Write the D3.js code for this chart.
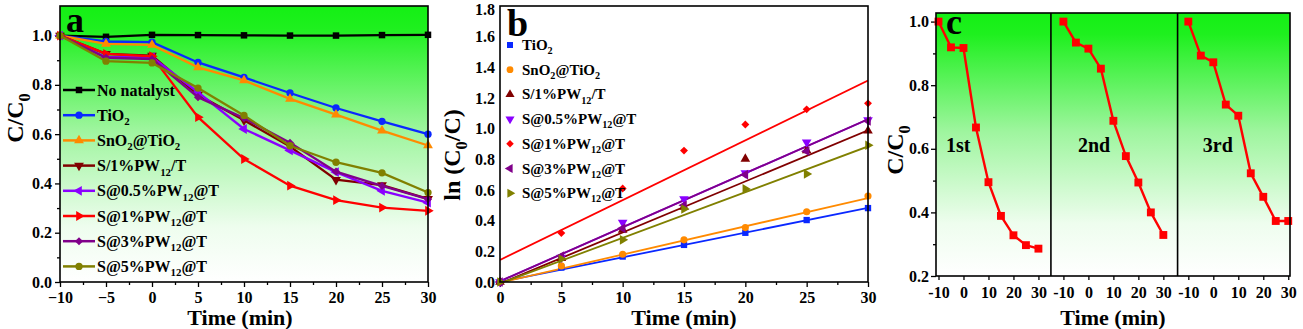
<!DOCTYPE html>
<html>
<head>
<meta charset="utf-8">
<script src="https://cdn.jsdelivr.net/npm/d3@7"></script>
<style>
body { margin: 0; background: #fff; }
text { font-family: "Liberation Serif", "Times New Roman", serif; font-weight: bold; fill: #000; }
</style>
</head>
<body>
<svg id="chart" width="1303" height="329"></svg>
<script>
// ---- panel a : C/C0 vs time ----
var timeA = [-10, -5, 0, 5, 10, 15, 20, 25, 30];
var namesA = ["No natalyst", "TiO_{2}", "SnO_{2}@TiO_{2}", "S/1%PW_{12}/T",
              "S@0.5%PW_{12}@T", "S@1%PW_{12}@T", "S@3%PW_{12}@T", "S@5%PW_{12}@T"];
var noCatalyst = [1.0, 0.995, 1.003, 1.002, 1.001, 1.0, 1.0, 1.002, 1.003];
var tio2 = [1.0, 0.976, 0.973, 0.891, 0.83, 0.767, 0.706, 0.652, 0.60];
var sno2Tio2 = [1.0, 0.966, 0.962, 0.871, 0.818, 0.743, 0.679, 0.614, 0.554];
var s1pwT = [1.0, 0.926, 0.919, 0.76, 0.656, 0.55, 0.415, 0.393, 0.337];
var s05pw = [1.0, 0.912, 0.912, 0.77, 0.621, 0.534, 0.446, 0.37, 0.322];
var s1pw = [1.0, 0.926, 0.916, 0.669, 0.499, 0.391, 0.332, 0.302, 0.289];
var s3pw = [1.0, 0.91, 0.905, 0.75, 0.665, 0.565, 0.448, 0.39, 0.336];
var s5pw = [1.0, 0.896, 0.889, 0.787, 0.676, 0.553, 0.486, 0.443, 0.363];
var valuesA = [noCatalyst, tio2, sno2Tio2, s1pwT, s05pw, s1pw, s3pw, s5pw];
var yTicksA = [0, 0.2, 0.4, 0.6, 0.8, 1.0];
var xTicksA = [-10, -5, 0, 5, 10, 15, 20, 25, 30];

// ---- panel b : ln(C0/C) vs time with linear fits ----
var timeB = [0, 5, 10, 15, 20, 25, 30];
var namesB = namesA.slice(1);
var lnTio2 = [0, 0.094, 0.166, 0.242, 0.321, 0.404, 0.482];
var lnSno2 = [0, 0.105, 0.181, 0.275, 0.355, 0.458, 0.561];
var lnS1pwT = [0, 0.155, 0.34, 0.49, 0.803, 0.857, 0.986];
var lnS05 = [0, 0.16, 0.388, 0.541, 0.711, 0.912, 1.056];
var lnS1 = [0, 0.319, 0.61, 0.857, 1.027, 1.126, 1.165];
var lnS3 = [0, 0.17, 0.35, 0.50, 0.70, 0.853, 1.05];
var lnS5 = [0, 0.15, 0.275, 0.476, 0.607, 0.705, 0.892];
var valuesB = [lnTio2, lnSno2, lnS1pwT, lnS05, lnS1, lnS3, lnS5];
// linear fit: [intercept, slope]
var fitsB = [[0, 0.0161], [-0.005, 0.0184], [-0.01, 0.0333], [0.005, 0.0352],
             [0.144, 0.039], [0.005, 0.0352], [-0.01, 0.0298]];
var yTicksB = [0, 0.2, 0.4, 0.6, 0.8, 1.0, 1.2, 1.4, 1.6, 1.8];
var xTicksB = [0, 5, 10, 15, 20, 25, 30];

// ---- panel c : three recycling runs of S@1%PW12@T ----
var cycleNames = ["1st", "2nd", "3rd"];
var cycle1 = [1.0, 0.919, 0.917, 0.667, 0.495, 0.389, 0.328, 0.297, 0.286];
var cycle2 = [1.0, 0.934, 0.915, 0.852, 0.688, 0.577, 0.494, 0.40, 0.329];
var cycle3 = [1.0, 0.893, 0.872, 0.739, 0.704, 0.523, 0.449, 0.373, 0.373];
var cycles = [cycle1, cycle2, cycle3];
var xTicksC = [-10, 0, 10, 20, 30];
var yTicksC = [0.2, 0.4, 0.6, 0.8, 1.0];

var colorsA = ["#000000", "#0a28ff", "#ff8a00", "#800000", "#8a00ff", "#ff0000", "#80008a", "#808000"];
var shapesA = ["square", "circle", "up", "down", "left", "right", "diamond", "circle"];
var colorsB = colorsA.slice(1);
var shapesB = ["square", "circle", "up", "down", "diamond", "left", "right"];

var svg = d3.select("#chart");
var defs = svg.append("defs");

var grad = defs.append("linearGradient")
    .attr("id", "bg").attr("x1", 0).attr("y1", 0).attr("x2", 0).attr("y2", 1);
[[0, "#14f014"], [0.08, "#1ef01e"], [0.45, "#9ef59e"], [0.8, "#eefdee"], [1, "#ffffff"]]
    .forEach(function (s) { grad.append("stop").attr("offset", s[0]).attr("stop-color", s[1]); });

// text with _{sub} parts turned into subscripts
function richText(sel, str, size) {
    var parts = str.split(/_\{([^}]*)\}/);
    parts.forEach(function (p, i) {
        if (p === "") return;
        var t = sel.append("tspan").text(p);
        if (i % 2 === 1) {
            t.attr("font-size", size * 0.68).attr("dy", size * 0.28);
        } else if (i > 0) {
            t.attr("dy", -size * 0.28);
        }
    });
    return sel;
}

function symbolPath(shape, size) {
    var types = { square: d3.symbolSquare, circle: d3.symbolCircle, diamond: d3.symbolDiamond2,
                  up: d3.symbolTriangle, down: d3.symbolTriangle, left: d3.symbolTriangle, right: d3.symbolTriangle };
    return d3.symbol().type(types[shape]).size(size)();
}
function symbolRot(shape) {
    return { down: 180, left: -90, right: 90 }[shape] || 0;
}
function drawMarker(g, shape, x, y, color, size) {
    g.append("path")
        .attr("d", symbolPath(shape, size))
        .attr("transform", "translate(" + x + "," + y + ") rotate(" + symbolRot(shape) + ")")
        .attr("fill", color);
}

function styleAxis(g, fontSize) {
    g.attr("font-family", null);
    g.select(".domain").remove();
    g.selectAll(".tick line").attr("stroke", "#000").attr("stroke-width", 1.3);
    g.selectAll(".tick text").attr("font-size", fontSize).attr("fill", "#000");
}

function frame(x0, y0, x1, y1) {
    svg.append("rect").attr("x", x0).attr("y", y0).attr("width", x1 - x0).attr("height", y1 - y0)
        .attr("fill", "none").attr("stroke", "#000").attr("stroke-width", 1.6);
}

// ================= panel a =================
(function () {
    var x = d3.scaleLinear().domain([-10, 30]).range([60, 428]);
    var y = d3.scaleLinear().domain([0, 1.12]).range([282, 6]);

    svg.append("rect").attr("x", 60).attr("y", 6).attr("width", 368).attr("height", 276).attr("fill", "url(#bg)");

    var ax = svg.append("g").attr("transform", "translate(0,282)")
        .call(d3.axisBottom(x).tickValues(xTicksA).tickSize(5).tickPadding(5).tickSizeOuter(0));
    styleAxis(ax, 16);
    var axm = svg.append("g").attr("transform", "translate(0,282)")
        .call(d3.axisBottom(x).tickValues(d3.range(-7.5, 30, 5)).tickSize(3).tickFormat("").tickSizeOuter(0));
    styleAxis(axm, 16);
    var ay = svg.append("g").attr("transform", "translate(60,0)")
        .call(d3.axisLeft(y).tickValues(yTicksA).tickFormat(d3.format(".1f")).tickSize(5).tickPadding(3).tickSizeOuter(0));
    styleAxis(ay, 16);
    var aym = svg.append("g").attr("transform", "translate(60,0)")
        .call(d3.axisLeft(y).tickValues(d3.range(0.1, 1.1, 0.2)).tickSize(3).tickFormat("").tickSizeOuter(0));
    styleAxis(aym, 16);

    var line = d3.line().x(function (d, i) { return x(timeA[i]); }).y(function (d) { return y(d); });
    valuesA.forEach(function (vals, k) {
        var g = svg.append("g");
        g.append("path").attr("d", line(vals)).attr("fill", "none")
            .attr("stroke", colorsA[k]).attr("stroke-width", 2.3);
        vals.forEach(function (v, i) { drawMarker(g, shapesA[k], x(timeA[i]), y(v), colorsA[k], 42); });
    });

    // legend
    namesA.forEach(function (n, k) {
        var ry = 90 + k * 25.2;
        var g = svg.append("g");
        g.append("line").attr("x1", 63).attr("x2", 95).attr("y1", ry).attr("y2", ry)
            .attr("stroke", colorsA[k]).attr("stroke-width", 2.5);
        drawMarker(g, shapesA[k], 79, ry, colorsA[k], 42);
        richText(g.append("text").attr("x", 97).attr("y", ry + 5.5).attr("font-size", 16), n, 16);
    });

    frame(60, 6, 428, 282);
    svg.append("text").attr("x", 66).attr("y", 32).attr("font-size", 36).text("a");
    svg.append("text").attr("x", 240).attr("y", 325).attr("font-size", 22).attr("text-anchor", "middle").text("Time (min)");
    richText(svg.append("text").attr("transform", "translate(23,118) rotate(-90)")
        .attr("font-size", 24).attr("text-anchor", "middle"), "C/C_{0}", 24);
})();

// ================= panel b =================
(function () {
    var x = d3.scaleLinear().domain([0, 30]).range([500, 868]);
    var y = d3.scaleLinear().domain([0, 1.8]).range([282, 6]);

    defs.append("clipPath").attr("id", "clipB").append("rect")
        .attr("x", 500).attr("y", 6).attr("width", 368).attr("height", 276);

    var ax = svg.append("g").attr("transform", "translate(0,282)")
        .call(d3.axisBottom(x).tickValues(xTicksB).tickSize(5).tickPadding(5).tickSizeOuter(0));
    styleAxis(ax, 16);
    var axm = svg.append("g").attr("transform", "translate(0,282)")
        .call(d3.axisBottom(x).tickValues(d3.range(2.5, 30, 5)).tickSize(3).tickFormat("").tickSizeOuter(0));
    styleAxis(axm, 16);
    var ay = svg.append("g").attr("transform", "translate(500,0)")
        .call(d3.axisLeft(y).tickValues(yTicksB).tickFormat(d3.format(".1f")).tickSize(0).tickPadding(5).tickSizeOuter(0));
    styleAxis(ay, 16);
    // keep the top label inside the picture
    ay.selectAll(".tick text").filter(function (d) { return d === 1.8; }).attr("dy", "0.5em");

    var fits = svg.append("g").attr("clip-path", "url(#clipB)");
    fitsB.forEach(function (f, k) {
        fits.append("line")
            .attr("x1", x(0)).attr("y1", y(f[0]))
            .attr("x2", x(30)).attr("y2", y(f[0] + f[1] * 30))
            .attr("stroke", colorsB[k]).attr("stroke-width", 1.8);
    });
    valuesB.forEach(function (vals, k) {
        var g = svg.append("g");
        vals.forEach(function (v, i) { drawMarker(g, shapesB[k], x(timeB[i]), y(v), colorsB[k], 40); });
    });

    namesB.forEach(function (n, k) {
        var ry = 45 + k * 24.7;
        var g = svg.append("g");
        drawMarker(g, shapesB[k], 510, ry, colorsB[k], 36);
        richText(g.append("text").attr("x", 522).attr("y", ry + 5).attr("font-size", 15), n, 15);
    });

    frame(500, 6, 868, 282);
    svg.append("text").attr("x", 507).attr("y", 36).attr("font-size", 38).text("b");
    svg.append("text").attr("x", 684).attr("y", 325).attr("font-size", 22).attr("text-anchor", "middle").text("Time (min)");
    richText(svg.append("text").attr("transform", "translate(460,155) rotate(-90)")
        .attr("font-size", 24).attr("text-anchor", "middle"), "ln (C_{0}/C)", 24);
})();

// ================= panel c =================
(function () {
    var offsets = [0, 50, 100];
    var x = d3.scaleLinear().domain([-11, 130.7]).range([936, 1290]);
    var y = d3.scaleLinear().domain([0.2, 1.027]).range([276, 13]);

    svg.append("rect").attr("x", 936).attr("y", 13).attr("width", 354).attr("height", 263).attr("fill", "url(#bg)");

    var ticks = [];
    offsets.forEach(function (o) { xTicksC.forEach(function (t) { ticks.push(t + o); }); });
    var ax = svg.append("g").attr("transform", "translate(0,276)")
        .call(d3.axisBottom(x).tickValues(ticks).tickSize(4).tickPadding(7).tickSizeOuter(0)
            .tickFormat(function (d) { return ((d + 10) % 50) - 10; }));
    styleAxis(ax, 16);
    var ay = svg.append("g").attr("transform", "translate(936,0)")
        .call(d3.axisLeft(y).tickValues(yTicksC).tickFormat(d3.format(".1f")).tickSize(5).tickPadding(2).tickSizeOuter(0));
    styleAxis(ay, 16);
    var aym = svg.append("g").attr("transform", "translate(936,0)")
        .call(d3.axisLeft(y).tickValues([0.3, 0.5, 0.7, 0.9]).tickSize(3).tickFormat("").tickSizeOuter(0));
    styleAxis(aym, 16);

    [35, 85.7].forEach(function (d) {
        svg.append("line").attr("x1", x(d)).attr("x2", x(d)).attr("y1", 13).attr("y2", 276)
            .attr("stroke", "#000").attr("stroke-width", 1.6);
    });

    var line = d3.line().x(function (d) { return x(d[0]); }).y(function (d) { return y(d[1]); });
    cycles.forEach(function (vals, k) {
        var pts = vals.map(function (v, i) { return [timeA[i] + offsets[k], v]; });
        var g = svg.append("g");
        g.append("path").attr("d", line(pts)).attr("fill", "none").attr("stroke", "#ff0000").attr("stroke-width", 2.4);
        pts.forEach(function (p) { drawMarker(g, "square", x(p[0]), y(p[1]), "#ff0000", 62); });
        svg.append("text").attr("x", x(-7 + offsets[k]) + (k === 0 ? 0 : 7)).attr("y", 152)
            .attr("font-size", 20).text(cycleNames[k]);
    });

    frame(936, 13, 1290, 276);
    svg.append("text").attr("x", 946).attr("y", 34).attr("font-size", 36).text("c");
    svg.append("text").attr("x", 1113).attr("y", 325).attr("font-size", 22).attr("text-anchor", "middle").text("Time (min)");
    richText(svg.append("text").attr("transform", "translate(903,150) rotate(-90)")
        .attr("font-size", 24).attr("text-anchor", "middle"), "C/C_{0}", 24);
})();
</script>
</body>
</html>
